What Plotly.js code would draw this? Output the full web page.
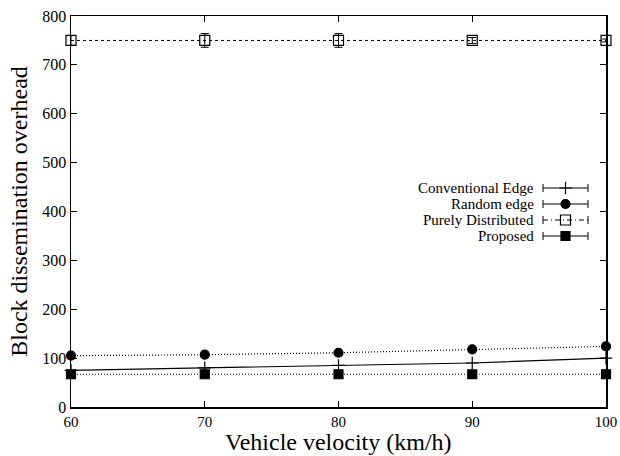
<!DOCTYPE html>
<html><head><meta charset="utf-8">
<script src="https://cdn.plot.ly/plotly-3.0.1.min.js"></script>
<style>body{margin:0;padding:0;background:#fff}#chart{width:620px;height:456px}</style>
</head><body><div id="chart"></div>
<script>
const velocity = [60, 70, 80, 90, 100];
const seriesNames = ["Conventional Edge", "Random edge", "Purely Distributed", "Proposed"];
const conventionalEdge = [75, 80, 85, 90, 100];
const randomEdge = [105, 107, 111, 118, 124];
const purelyDistributed = [750, 750, 750, 750, 750];
const purelyDistributedErr = [10, 14, 14, 6, 3];
const proposed = [67, 67, 67, 67, 67];
const xTicks = [60, 70, 80, 90, 100];
const yTicks = [0, 100, 200, 300, 400, 500, 600, 700, 800];
const xTitle = "Vehicle velocity (km/h)";
const yTitle = "Block dissemination overhead";

const FONT = "Liberation Serif, Times New Roman, serif";
const styles = [
  {dash: "solid", legDash: "solid", symbol: "cross-thin-open", size: 9, lw: 1.2},
  {dash: "1px,2px", legDash: "solid", symbol: "circle", size: 9, lw: 1.2},
  {dash: "3px,3px", legDash: "5px,3px,1px,3px", symbol: "square-open", size: 10, lw: 1},
  {dash: "1px,2px", legDash: "solid", symbol: "square", size: 9, lw: 1.2}
];
const values = [conventionalEdge, randomEdge, purelyDistributed, proposed];
const errs = [null, null, purelyDistributedErr, null];

const traces = values.map((v, i) => {
  const t = {
    x: velocity, y: v, type: "scatter", mode: "lines+markers", name: seriesNames[i],
    showlegend: false,
    line: {color: "black", width: styles[i].lw, dash: styles[i].dash},
    marker: {symbol: styles[i].symbol, size: styles[i].size, color: "black",
             line: {color: "black", width: 1.2}},
    cliponaxis: false
  };
  if (errs[i]) t.error_y = {type: "data", array: errs[i], visible: true, color: "black", thickness: 1, width: 4};
  return t;
});

// custom gnuplot-style legend (text on the left, sample on the right)
const legRows = [188, 204, 220, 236];
const shapes = [];
const annotations = [];
seriesNames.forEach((n, i) => {
  const yy = legRows[i];
  annotations.push({xref: "x2", yref: "y2", x: 536, y: yy, text: n, showarrow: false,
    xanchor: "right", yanchor: "middle", font: {family: FONT, size: 15, color: "black"}});
  shapes.push({type: "line", xref: "x2", yref: "y2", x0: 543, x1: 588, y0: yy, y1: yy,
    line: {color: "black", width: 1, dash: styles[i].legDash}});
  shapes.push({type: "line", xref: "x2", yref: "y2", x0: 543, x1: 543, y0: yy - 4, y1: yy + 4,
    line: {color: "black", width: 1}});
  shapes.push({type: "line", xref: "x2", yref: "y2", x0: 588, x1: 588, y0: yy - 4, y1: yy + 4,
    line: {color: "black", width: 1}});
  traces.push({x: [565.5], y: [yy], xaxis: "x2", yaxis: "y2", type: "scatter", mode: "markers",
    showlegend: false, hoverinfo: "skip", cliponaxis: false,
    marker: {symbol: i === 2 ? "square" : styles[i].symbol, size: styles[i].size,
             color: i === 2 ? "white" : "black", line: {color: "black", width: 1.2}}});
});

// x-axis title as annotation, placed at the bottom of the figure
annotations.push({xref: "paper", yref: "paper", x: 0.5, y: -49 / 391, yanchor: "bottom",
  xanchor: "center", yshift: 0, showarrow: false, text: xTitle, borderpad: 0,
  font: {family: FONT, size: 24, color: "black"}});

const layout = {
  width: 620, height: 456,
  margin: {l: 71, r: 14, t: 16, b: 49},
  paper_bgcolor: "white", plot_bgcolor: "white",
  font: {family: FONT, color: "black", size: 16},
  showlegend: false,
  xaxis: {
    range: [60, 100], tickvals: xTicks, ticktext: xTicks.map(String),
    ticks: "inside", ticklen: 6, tickcolor: "black", showgrid: false, zeroline: false,
    showline: true, linecolor: "black", linewidth: 1.5, mirror: "ticks",
    tickfont: {family: FONT, size: 15}
  },
  yaxis: {
    range: [0, 800], tickvals: yTicks, ticktext: yTicks.map(String),
    ticks: "inside", ticklen: 6, tickcolor: "black", showgrid: false, zeroline: false,
    showline: true, linecolor: "black", linewidth: 1.5, mirror: "ticks",
    tickfont: {family: FONT, size: 16},
    title: {text: yTitle, font: {family: FONT, size: 24}, standoff: 8}
  },
  xaxis2: {overlaying: "x", range: [71, 606], visible: false, fixedrange: true},
  yaxis2: {overlaying: "y", range: [407, 16], visible: false, fixedrange: true},
  shapes: shapes,
  annotations: annotations
};
Plotly.newPlot("chart", traces, layout, {staticPlot: true, displayModeBar: false});
</script></body></html>
